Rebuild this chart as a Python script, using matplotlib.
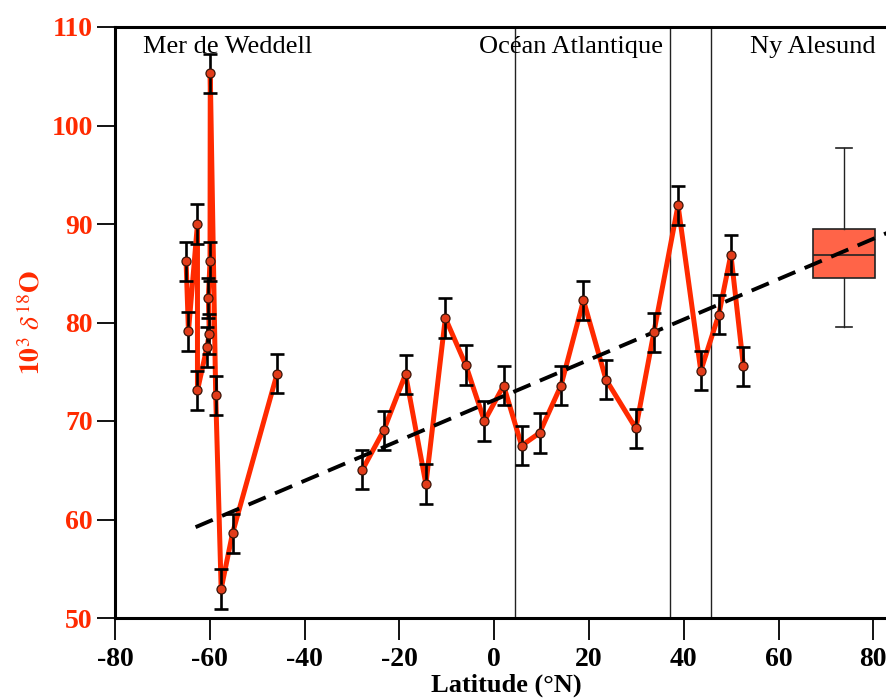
import matplotlib
matplotlib.use('Agg')
import matplotlib.pyplot as plt
import numpy as np

plt.rcParams['font.family'] = ['Liberation Serif', 'DejaVu Serif']
plt.rcParams['mathtext.fontset'] = 'stix'

# Weddell Sea transect (connected line)
weddell_lat = [-65.0, -64.5, -62.6, -62.6, -60.6, -60.1, -60.3, -59.95, -59.9, -58.75, -57.6, -55.2, -45.8]
weddell_val = [86.2, 79.1, 90.0, 73.1, 77.5, 78.85, 82.5, 86.2, 105.3, 72.6, 52.95, 58.6, 74.8]
# Atlantic transect
atl_lat = [-27.8, -23.3, -18.7, -14.4, -10.3, -6.0, -2.05, 2.0, 5.8, 9.6, 14.1, 18.85,
           23.6, 29.9, 33.7, 38.8, 43.6, 47.4, 49.95, 52.6]
atl_val = [65.05, 69.05, 74.75, 63.6, 80.45, 75.7, 70.0, 73.6, 67.5, 68.8, 73.6, 82.25,
           74.2, 69.25, 79.0, 91.9, 75.1, 80.8, 86.9, 75.55]
err = 2.0

# Ny Alesund box (whislo, q1, med, q3, whishi)
ny_lat = 73.8
ny_stats = [79.5, 84.5, 86.85, 89.45, 97.75]

# linear fit
fit_slope = 0.2047
fit_intercept = 72.12
fit_start = -63.0

# region separators
sep_lat = [4.4, 37.1, 45.7]
regions = [(-74.1, 'Mer de Weddell'), (-3.2, 'Océan Atlantique'), (54.0, 'Ny Alesund')]

red = '#FF2A00'
mface = '#E23C1A'

fig = plt.figure(figsize=(8.86, 6.98), dpi=100)
ax = fig.add_axes([115/886, 80/698, 782/886, 591/698])
ax.set_xlim(-80, 85)
ax.set_ylim(50, 110)

for x in sep_lat:
    ax.axvline(x, color='#222222', lw=1.0, zorder=1)

for la, va in [(weddell_lat, weddell_val), (atl_lat, atl_val)]:
    ax.plot(la, va, color=red, lw=3.6, zorder=2, solid_joinstyle='round')
    ax.errorbar(la, va, yerr=err, fmt='none', ecolor='black', elinewidth=1.9,
                capsize=5.0, capthick=1.9, zorder=3)
    ax.plot(la, va, 'o', ms=6.5, mfc=mface, mec='#3a1408', mew=0.9, zorder=5)

bstats = [dict(whislo=ny_stats[0], q1=ny_stats[1], med=ny_stats[2],
               q3=ny_stats[3], whishi=ny_stats[4], fliers=[])]
ax.bxp(bstats, positions=[ny_lat], widths=13.1, capwidths=3.3, patch_artist=True,
       showfliers=False,
       boxprops=dict(facecolor='#FF6448', edgecolor='#222222', lw=1.2),
       medianprops=dict(color='#222222', lw=1.2),
       whiskerprops=dict(color='#222222', lw=1.0),
       capprops=dict(color='#222222', lw=1.2), zorder=2)

fx = np.array([fit_start, 85.0])
ax.plot(fx, fit_intercept + fit_slope * fx, color='black', lw=2.8,
        dashes=(4.8, 2.6), zorder=4)

for x, t in regions:
    ax.text(x, 107.36, t, fontsize=19, ha='left', va='baseline', zorder=6)

ax.set_xticks(np.arange(-80, 81, 20))
ax.set_yticks(np.arange(50, 111, 10))
ax.set_xticklabels([str(v) for v in range(-80, 81, 20)])
ax.tick_params(axis='x', direction='out', length=16, width=1.3, labelsize=20, pad=5)
ax.tick_params(axis='y', direction='out', length=13, width=1.3, labelsize=20,
               labelcolor=red, pad=3)
for lab in ax.get_xticklabels() + ax.get_yticklabels():
    lab.set_fontweight('bold')

for s in ['left', 'bottom', 'top']:
    ax.spines[s].set_linewidth(2.2)
ax.spines['right'].set_visible(False)

ax.set_xlabel('Latitude (°N)', fontsize=19, fontweight='bold', labelpad=1)
ax.set_ylabel(r'$\mathbf{10}^3\ \delta^{18}\mathbf{O}$', fontsize=20, color=red, labelpad=4)

fig.savefig('out.png', dpi=100)
